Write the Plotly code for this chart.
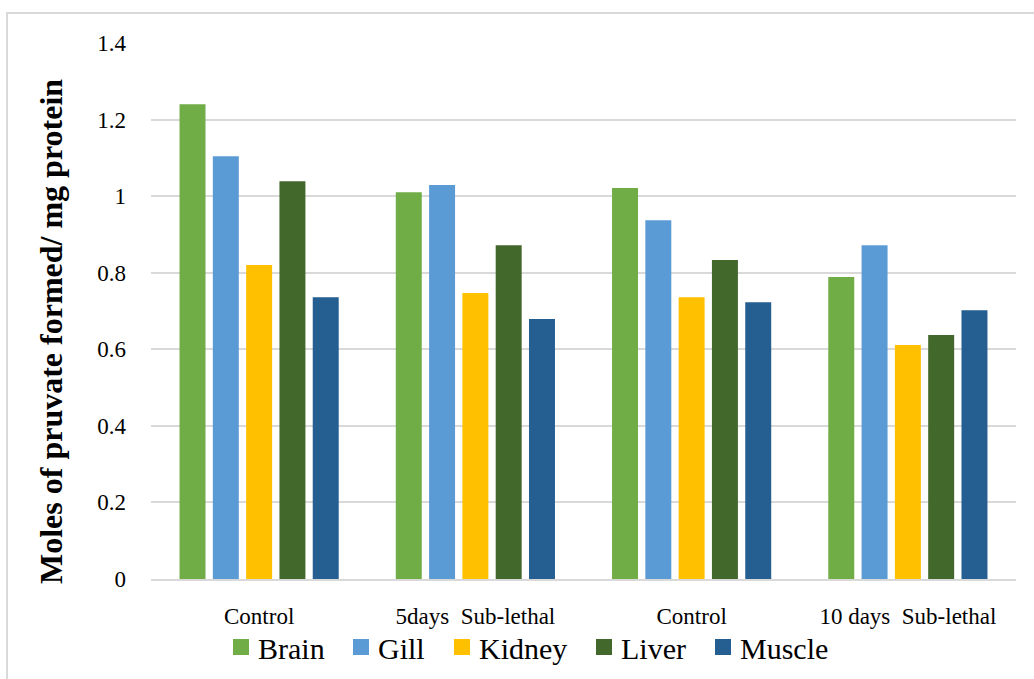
import plotly.graph_objects as go

# Exposure groups along the x axis
categories = ["Control", "5days  Sub-lethal", "Control", "10 days  Sub-lethal"]

# Moles of pyruvate formed per mg protein, by tissue
brain = [1.240, 1.010, 1.021, 0.789]
gill = [1.104, 1.029, 0.937, 0.872]
kidney = [0.820, 0.747, 0.736, 0.611]
liver = [1.039, 0.872, 0.833, 0.637]
muscle = [0.736, 0.679, 0.723, 0.702]

y_ticks = [0, 0.2, 0.4, 0.6, 0.8, 1, 1.2, 1.4]
y_tick_text = ["0", "0.2", "0.4", "0.6", "0.8", "1", "1.2", "1.4"]

series = [
    ("Brain", brain, "#70AD47"),
    ("Gill", gill, "#5B9BD5"),
    ("Kidney", kidney, "#FFC000"),
    ("Liver", liver, "#43682B"),
    ("Muscle", muscle, "#255E91"),
]

positions = list(range(len(categories)))

# Figure geometry (pixels)
W, H = 1034, 679
M_L, M_R, M_T, M_B = 151, 18, 43, 100
PLOT_W = W - M_L - M_R
PLOT_H = H - M_T - M_B


def px_x(px):
    return (px - M_L) / PLOT_W


def px_y(py):
    return (H - M_B - py) / PLOT_H


fig = go.Figure()
for name, values, color in series:
    fig.add_trace(go.Bar(
        name=name,
        x=positions,
        y=values,
        marker=dict(color=color, line=dict(width=0)),
        showlegend=False,
    ))

serif = "Liberation Serif"

fig.update_layout(
    width=W,
    height=H,
    barmode="group",
    bargap=0.23,
    bargroupgap=0.22,
    plot_bgcolor="white",
    paper_bgcolor="white",
    margin=dict(l=M_L, r=M_R, t=M_T, b=M_B, autoexpand=False),
    font=dict(family=serif, color="#000000"),
    showlegend=False,
)

fig.update_xaxes(
    tickmode="array",
    tickvals=positions,
    ticktext=categories,
    tickfont=dict(size=23, family=serif),
    ticks="",
    ticklabelstandoff=15,
    showgrid=False,
    showline=True,
    linecolor="#D9D9D9",
    linewidth=2,
    range=[-0.5, len(categories) - 0.5],
    zeroline=False,
    automargin=False,
)

fig.update_yaxes(
    range=[0, 1.4],
    tickmode="array",
    tickvals=y_ticks,
    ticktext=y_tick_text,
    tickfont=dict(size=23, family=serif),
    ticks="",
    ticklabelstandoff=24,
    showgrid=True,
    gridcolor="#D9D9D9",
    gridwidth=1.5,
    zeroline=False,
    showline=False,
    automargin=False,
)

# Axis title, placed a little below the plot-area centre
fig.add_annotation(
    text="<b>Moles of pruvate formed/ mg protein</b>",
    xref="paper", yref="paper",
    x=px_x(51), y=px_y(332),
    xanchor="center", yanchor="middle",
    textangle=-90,
    showarrow=False,
    font=dict(size=32, family=serif, color="#000000"),
)

# Legend row: colour key squares followed by the tissue names
legend_left_px = [233, 353, 454, 596, 715]
legend_mid_py = 647
key = 16
for (name, _, color), left in zip(series, legend_left_px):
    fig.add_shape(
        type="rect",
        xref="paper", yref="paper",
        x0=px_x(left), x1=px_x(left + key),
        y0=px_y(legend_mid_py + key / 2), y1=px_y(legend_mid_py - key / 2),
        line=dict(width=0),
        fillcolor=color,
    )
    fig.add_annotation(
        text=name,
        xref="paper", yref="paper",
        x=px_x(left + key + 7), y=px_y(legend_mid_py + 1),
        xanchor="left", yanchor="middle",
        showarrow=False,
        font=dict(size=30, family=serif, color="#000000"),
    )

# Light frame around the chart area
fig.add_shape(
    type="rect",
    xref="paper", yref="paper",
    x0=px_x(7), x1=px_x(1045),
    y0=px_y(700), y1=px_y(13),
    line=dict(color="#D9D9D9", width=2),
    fillcolor="rgba(0,0,0,0)",
    layer="below",
)

fig.write_html("out.html")
